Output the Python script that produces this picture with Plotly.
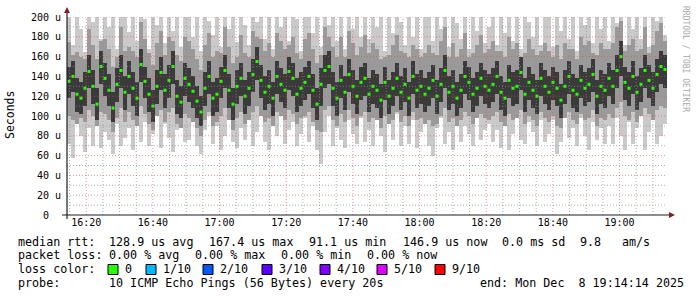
import plotly.graph_objects as go
import pandas as pd

# ---------------- data ----------------
START = "2025-12-08 16:14:14"
END = "2025-12-08 19:14:14"
STEP_S = 72

median = [135,140,122,118,128,145,130,112,150,138,126,108,132,146,124,
          140,128,118,152,135,122,110,130,144,126,136,150,120,114,138,
          132,125,115,104,128,140,118,122,135,146,126,112,130,138,120,
          128,142,155,136,124,130,118,140,132,126,145,138,122,128,134,
          140,126,112,132,146,150,128,118,136,124,142,130,120,134,138,
          122,130,126,116,134,120,128,138,124,132,118,140,126,130,122,
          128,136,120,132,146,124,130,118,126,140,134,122,128,138,130,
          126,132,140,124,118,136,128,130,144,122,134,126,120,138,130,
          124,134,128,116,130,140,126,122,136,128,132,142,120,130,126,
          138,130,146,160,134,128,140,124,132,146,136,128,142,150,147]

outer_lo = [72,58,96,80,64,88,70,100,68,84,76,62,92,70,78,
            88,66,98,74,94,70,82,104,68,92,78,64,86,98,74,
            76,94,70,62,86,100,72,90,66,80,96,74,68,88,76,
            96,70,84,100,74,66,92,80,102,72,86,94,70,82,98,
            74,90,66,52,84,100,70,88,76,68,96,82,72,98,74,
            86,70,98,80,64,92,76,102,70,90,72,96,68,84,100,
            70,60,88,98,72,84,66,96,74,90,82,70,100,76,86,
            92,74,86,68,98,66,82,100,76,72,94,84,70,96,74,
            82,96,62,74,100,78,88,70,98,80,66,94,76,88,72,
            90,72,98,80,66,94,72,88,100,66,84,96,72,80,92]

outer_hi = [205,172,210,188,165,205,195,210,178,205,190,210,168,205,200,
            185,210,176,205,198,168,210,192,205,174,210,186,205,170,210,
            210,180,205,166,210,196,182,210,170,205,188,210,175,205,192,
            172,210,195,205,178,210,168,205,190,210,176,205,198,166,210,
            205,184,210,170,205,192,210,176,205,168,210,188,205,180,210,
            178,205,190,210,166,205,184,210,195,172,210,180,205,168,205,
            210,176,205,188,210,170,205,194,178,210,168,205,186,210,174,
            190,210,172,205,184,210,176,205,168,210,195,180,210,172,205,
            205,170,210,186,205,178,210,166,205,192,210,174,205,188,210,
            176,210,194,205,172,210,188,205,178,210,170,205,196,210,182]

mid_lo = [100,96,92,98,94,106,100,90,104,102,96,84,98,108,94,
          104,96,90,110,102,92,86,100,106,94,104,108,92,88,102,
          98,94,88,80,96,104,90,94,100,108,96,86,98,104,92,
          96,104,110,100,94,98,90,104,100,96,106,102,92,98,100,
          104,94,86,84,106,110,96,90,102,94,106,98,90,100,104,
          94,98,96,88,100,92,96,104,94,100,90,104,96,98,92,
          96,90,92,100,108,94,98,90,96,104,100,92,98,102,98,
          96,100,104,94,90,102,96,98,106,92,100,96,90,104,98,
          94,100,90,88,98,104,96,92,102,96,98,106,90,98,96,
          102,98,108,114,100,96,104,94,100,108,102,96,106,110,108]

mid_hi = [175,162,165,160,158,188,172,158,176,178,168,150,160,190,166,
          170,166,160,195,178,164,152,174,186,162,180,176,162,156,180,
          176,168,158,146,172,184,160,166,164,190,170,154,160,182,164,
          160,186,180,178,166,174,160,184,176,168,172,180,164,158,178,
          184,168,154,162,190,180,170,160,180,160,186,174,162,170,182,
          164,174,168,158,160,162,172,182,166,164,160,172,168,160,164,
          172,164,162,176,190,160,174,160,168,184,160,164,172,182,164,
          168,176,166,166,160,180,168,174,160,164,178,168,162,166,174,
          166,160,172,158,174,168,168,158,180,172,176,164,162,174,168,
          168,174,190,196,166,172,178,166,168,190,164,172,186,194,176]

core_lo = [118,124,104,102,110,128,112,96,132,120,110,94,114,128,106,
           122,110,100,134,118,104,94,112,126,108,118,132,102,98,120,
           114,108,98,90,110,122,100,104,118,128,108,96,112,120,102,
           110,124,136,118,106,112,100,122,114,108,126,120,104,110,116,
           122,108,96,110,128,132,110,100,118,106,124,112,102,116,120,
           104,112,108,98,116,102,110,120,106,114,100,122,108,112,104,
           110,118,102,114,128,106,112,100,108,122,116,104,110,120,112,
           108,114,122,106,100,118,110,112,126,104,116,108,102,120,112,
           106,116,110,98,112,122,108,104,118,110,114,124,102,112,108,
           120,112,128,140,116,110,122,106,114,128,118,110,124,132,128]

core_hi = [150,156,138,134,144,162,146,128,166,154,142,124,148,162,140,
           156,144,134,168,150,138,126,146,160,142,152,166,136,130,154,
           148,140,130,120,144,156,134,138,150,162,142,128,146,154,136,
           144,158,170,152,140,146,134,156,148,142,160,154,138,144,150,
           156,142,128,148,162,166,144,134,152,140,158,146,136,150,154,
           138,146,142,132,150,136,144,154,140,148,134,156,142,146,138,
           144,152,136,148,162,140,146,134,142,156,150,138,144,154,146,
           142,148,156,140,134,152,144,146,160,138,150,142,136,154,146,
           140,150,144,132,146,156,142,138,152,144,148,158,136,146,142,
           154,146,162,176,150,144,156,140,148,162,152,144,158,166,162]

y_tickvals = [0, 20, 40, 60, 80, 100, 120, 140, 160, 180, 200]
y_ticktext = ["0\u00a0\u00a0", "20 u", "40 u", "60 u", "80 u", "100 u",
              "120 u", "140 u", "160 u", "180 u", "200 u"]

loss_labels = ["0", "1/10", "2/10", "3/10", "4/10", "5/10", "9/10"]
loss_colors = ["#26ff00", "#00b8ff", "#0059ff", "#5e00ff", "#7e00ff", "#dd00ff", "#ff0000"]

legend_rows = [
    [("median rtt:", 16), ("128.9 us avg", 107), ("167.4 us max", 207), ("91.1 us min", 307),
     ("146.9 us now", 401), ("0.0 ms sd", 500), ("9.8", 578), ("am/s", 620)],
    [("packet loss:", 16), ("0.00 % avg", 107), ("0.00 % max", 193), ("0.00 % min", 279),
     ("0.00 % now", 365)],
    [("loss color:", 16)],
    [("probe:", 16), ("10 ICMP Echo Pings (56 Bytes) every 20s", 107),
     ("end: Mon Dec\u00a0\u00a08 19:14:14 2025", 478)],
]
legend_row_y = [241.5, 255.3, 269.3, 283.3]
loss_box_x = [108, 146, 203, 262, 320, 377, 435]

# ---------------- geometry ----------------
W, H = 697, 297
L, R, T, B = 67, 667, 17, 215
PW, PH = R - L, B - T
def px(xp):
    return (xp - L) / PW
def py(yp):
    return (B - yp) / PH

times = pd.date_range(start="2025-12-08 16:14:50", periods=len(median), freq=f"{STEP_S}s")
bw = STEP_S * 1000

fig = go.Figure()
for lo, hi, col in [(outer_lo, outer_hi, "#cacaca"),
                    (mid_lo, mid_hi, "#9a9a9a"),
                    (core_lo, core_hi, "#3a3a3a")]:
    fig.add_trace(go.Bar(x=times, y=[h - l for l, h in zip(lo, hi)], base=lo,
                         width=bw, marker=dict(color=col, line=dict(width=0)),
                         hoverinfo="skip", showlegend=False))
fig.add_trace(go.Scatter(x=times, y=median, mode="markers",
                         marker=dict(symbol="square", size=3, color="#26ff00",
                                     line=dict(width=0)),
                         showlegend=False, hoverinfo="skip"))

FONT = "DejaVu Sans Mono"
fig.update_layout(
    width=W, height=H, autosize=False,
    margin=dict(l=L, r=W - R, t=T, b=H - B, pad=0),
    paper_bgcolor="white", plot_bgcolor="white",
    barmode="overlay", bargap=0,
    showlegend=False,
    font=dict(family=FONT, size=10, color="black"),
)
fig.update_xaxes(type="date", range=[START, END], showgrid=False, zeroline=False,
                 showline=False, ticks="", tick0="2025-12-08 16:20:00",
                 dtick=20 * 60 * 1000, tickformat="%H:%M",
                 tickfont=dict(family=FONT, size=10, color="black"))
fig.update_yaxes(range=[0, 200], showgrid=False, zeroline=False, showline=False,
                 ticks="", tickvals=y_tickvals, ticktext=y_ticktext,
                 ticklabelstandoff=5,
                 tickfont=dict(family=FONT, size=10, color="black"))

shapes = []
# grid (drawn above data like rrdtool)
minor_t = pd.date_range("2025-12-08 16:15:00", "2025-12-08 19:10:00", freq="5min")
for t in minor_t:
    major = (t.minute % 20 == 0)
    shapes.append(dict(type="line", xref="x", yref="paper", x0=t, x1=t, y0=0, y1=1,
                       layer="above",
                       line=dict(color="rgba(222,79,79,0.6)" if major else "rgba(143,143,143,0.7)",
                                 width=1, dash="1px,2px")))
for v in range(10, 201, 10):
    major = (v % 20 == 0)
    shapes.append(dict(type="line", xref="paper", yref="y", x0=0, x1=1, y0=v, y1=v,
                       layer="above",
                       line=dict(color="rgba(222,79,79,0.6)" if major else "rgba(143,143,143,0.7)",
                                 width=1, dash="1px,2px")))
# axes
shapes.append(dict(type="line", xref="paper", yref="paper", x0=px(62), x1=px(669),
                   y0=py(215), y1=py(215), line=dict(color="#1f1f1f", width=1.2), layer="above"))
shapes.append(dict(type="line", xref="paper", yref="paper", x0=px(67), x1=px(67),
                   y0=py(219), y1=py(12), line=dict(color="#1f1f1f", width=1.2), layer="above"))
# arrows
shapes.append(dict(type="path", xref="paper", yref="paper", layer="above",
                   path=f"M {px(64)},{py(13)} L {px(70)},{py(13)} L {px(67)},{py(7)} Z",
                   fillcolor="#801f1f", line=dict(width=0)))
shapes.append(dict(type="path", xref="paper", yref="paper", layer="above",
                   path=f"M {px(669)},{py(212)} L {px(669)},{py(218)} L {px(675)},{py(215)} Z",
                   fillcolor="#801f1f", line=dict(width=0)))
# loss colour boxes
for bx, col in zip(loss_box_x, loss_colors):
    shapes.append(dict(type="rect", xref="paper", yref="paper",
                       x0=px(bx), x1=px(bx + 10), y0=py(264.5), y1=py(274.5),
                       fillcolor=col, line=dict(color="#000000", width=1)))

annotations = []
for row, yy in zip(legend_rows, legend_row_y):
    for txt, xx in row:
        annotations.append(dict(text=txt, xref="paper", yref="paper", x=px(xx), y=py(yy),
                                xanchor="left", yanchor="middle", showarrow=False,
                                font=dict(family=FONT, size=11.7, color="black")))
for bx, lab in zip(loss_box_x, loss_labels):
    annotations.append(dict(text=lab, xref="paper", yref="paper", x=px(bx + 15),
                            y=py(legend_row_y[2]), xanchor="left", yanchor="middle",
                            showarrow=False, font=dict(family=FONT, size=11.7, color="black")))
annotations.append(dict(text="Seconds", xref="paper", yref="paper", x=px(10), y=py(115),
                        xanchor="center", yanchor="middle", textangle=-90, showarrow=False,
                        font=dict(family=FONT, size=11.5, color="black")))
annotations.append(dict(text="RRDTOOL / TOBI OETIKER", xref="paper", yref="paper",
                        x=px(686), y=py(59), xanchor="center", yanchor="middle",
                        textangle=90, showarrow=False,
                        font=dict(family=FONT, size=8, color="#a8a8a8")))

fig.update_layout(shapes=shapes, annotations=annotations)
fig.write_html("out.html")
